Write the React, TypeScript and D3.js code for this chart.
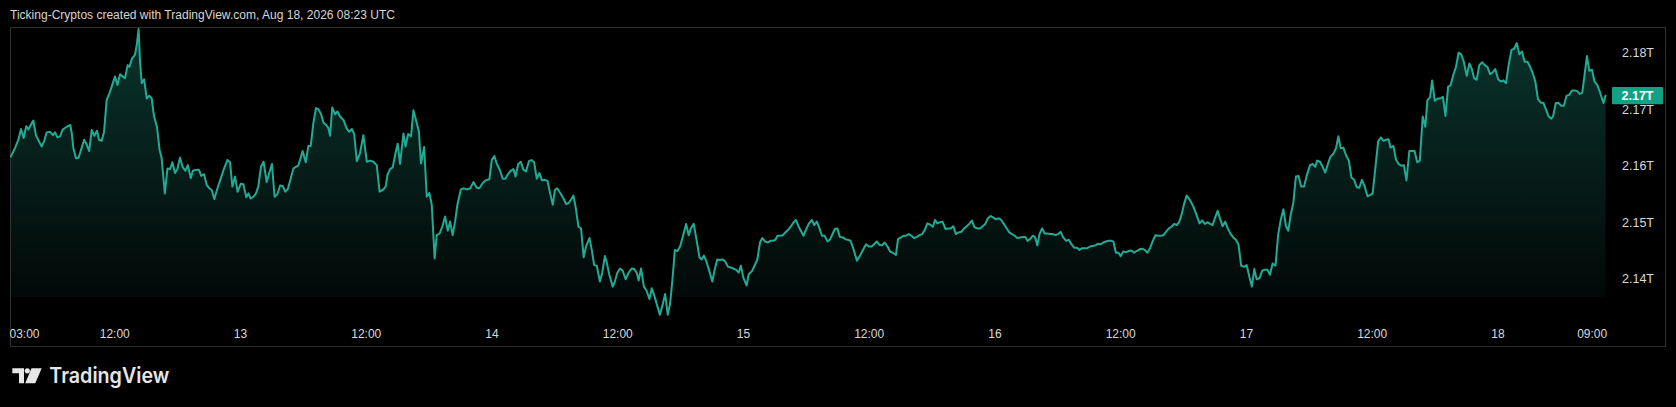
import React, { useMemo } from 'react';
import * as d3 from 'd3';

// ---------- data ----------
// each point: [quarter-hours since 12 Aug 2026 00:00, total crypto market cap in billions USD]
const aug12: [number, number][] = [
  [8.3,2161.6],[9.9,2163.1],[11.2,2164.6],[12.2,2166.5],[13.2,2164.9],[14.2,2167.0],[15.0,2166.4],[15.9,2167.2],
  [16.9,2168.0],[17.9,2165.4],[19.3,2164.1],[20.1,2163.4],[21.0,2164.3],[22.0,2165.9],[23.3,2166.0],[24.4,2165.4],
  [25.2,2165.9],[26.1,2165.0],[27.1,2165.2],[28.1,2166.4],[29.7,2166.9],[31.0,2167.2],[31.6,2165.7],[32.2,2163.1],
  [33.2,2161.3],[34.2,2161.4],[35.1,2162.8],[36.3,2164.6],[37.3,2163.7],[38.2,2162.6],[39.2,2166.3],[40.2,2165.3],
  [41.2,2166.2],[42.0,2164.6],[43.0,2164.4],[43.9,2166.0],[44.9,2171.6],[46.2,2173.1],[48.1,2175.8],[49.0,2174.3],
  [50.0,2176.2],[51.0,2175.8],[51.9,2175.5],[52.9,2177.8],[53.6,2177.5],[54.6,2179.0],[55.7,2179.6],[56.4,2181.4],
  [57.1,2184.2],[57.6,2178.7],[58.3,2174.6],[59.2,2175.3],[60.2,2171.9],[61.2,2172.4],[62.1,2171.9],[63.0,2168.7],
  [64.1,2166.9],[65.1,2162.8],[65.9,2161.3],[67.1,2155.1],[68.1,2159.5],[69.1,2159.4],[70.0,2160.6],[71.0,2158.7],
  [71.9,2159.4],[72.9,2161.4],[73.9,2159.8],[74.9,2159.1],[75.9,2160.1],[77.0,2157.8],[77.8,2159.1],[79.3,2159.3],
  [80.1,2159.3],[81.0,2158.2],[82.1,2158.5],[83.1,2156.6],[84.1,2156.0],[85.0,2155.7],[86.0,2154.1],[87.2,2156.0],
  [88.5,2157.8],[89.7,2159.5],[91.0,2161.0],[92.0,2160.6],[92.9,2156.3],[93.9,2158.1],[94.9,2155.4],
];
const aug13: [number, number][] = [
  [96.1,2156.8],[97.1,2156.7],[98.2,2154.4],[99.0,2155.1],[99.9,2154.2],[100.9,2154.5],[101.9,2155.1],[102.8,2156.3],
  [103.8,2159.8],[104.8,2160.7],[106.0,2157.1],[107.0,2158.8],[108.0,2160.3],[109.0,2154.5],[110.1,2155.0],[111.1,2156.5],
  [112.1,2156.4],[113.1,2155.4],[114.1,2155.9],[115.2,2157.8],[116.2,2159.5],[117.1,2159.8],[118.0,2160.0],[118.7,2161.0],
  [119.7,2162.6],[120.9,2160.6],[121.9,2163.5],[122.8,2163.5],[123.8,2167.5],[124.8,2170.2],[125.7,2170.0],[126.7,2169.2],
  [127.7,2167.6],[128.7,2167.2],[129.5,2166.7],[130.2,2165.3],[131.0,2170.3],[132.1,2169.1],[133.0,2169.6],[134.0,2168.7],
  [135.3,2168.1],[136.5,2166.6],[137.5,2166.0],[138.5,2166.5],[139.4,2165.6],[140.4,2160.8],[141.6,2162.2],[142.9,2165.4],
  [144.2,2160.7],[145.5,2160.9],[146.7,2160.7],[148.0,2160.1],[149.1,2155.4],[150.3,2155.7],[151.4,2156.3],[152.1,2158.4],
  [153.1,2159.4],[154.1,2159.7],[155.0,2161.9],[156.0,2163.9],[156.9,2160.3],[158.2,2165.7],[159.0,2163.4],[160.0,2165.6],
  [161.1,2165.2],[162.0,2169.8],[163.3,2167.5],[164.1,2166.0],[164.9,2160.4],[166.1,2163.3],[167.1,2154.5],[168.1,2155.2],
  [169.0,2153.1],[170.1,2143.6],[170.9,2147.7],[172.0,2148.0],[173.1,2149.3],[174.1,2151.0],[175.1,2148.5],[176.0,2150.1],
  [177.0,2147.7],[177.9,2150.1],[178.8,2153.1],[180.1,2155.8],[181.3,2156.0],[182.3,2155.8],[183.7,2156.0],[184.9,2157.1],
  [186.2,2156.1],[187.2,2156.0],[188.4,2156.9],[189.5,2157.4],[191.0,2157.6],[191.9,2161.0],
];
const aug14: [number, number][] = [
  [192.9,2161.7],[193.8,2160.4],[195.1,2159.1],[196.1,2157.7],[197.1,2157.7],[198.1,2158.5],[199.1,2159.1],[200.2,2159.4],
  [201.0,2158.1],[202.0,2160.3],[203.0,2160.7],[204.0,2159.3],[205.0,2159.0],[206.1,2160.8],[207.1,2161.0],[208.1,2160.6],
  [209.1,2157.7],[210.1,2158.7],[211.1,2157.4],[212.2,2157.5],[213.2,2157.3],[214.2,2155.1],[215.2,2153.1],[216.0,2155.7],
  [216.9,2156.0],[218.0,2155.2],[219.3,2154.2],[220.3,2153.2],[221.3,2153.4],[222.3,2154.1],[223.1,2154.7],[224.0,2152.5],
  [225.0,2149.2],[226.0,2148.9],[227.0,2143.8],[227.9,2145.7],[229.2,2147.2],[230.1,2145.1],[231.0,2142.4],[232.0,2142.3],
  [233.2,2139.5],[234.1,2141.1],[235.1,2144.0],[235.8,2142.9],[236.8,2140.7],[238.1,2138.6],[238.9,2139.5],[239.8,2141.0],
  [240.9,2141.8],[241.9,2141.4],[243.0,2139.9],[244.2,2141.1],[245.3,2141.8],[246.3,2141.7],[247.3,2141.0],[248.0,2139.7],
  [248.9,2141.8],[250.0,2138.6],[251.0,2137.9],[252.1,2136.4],[253.0,2138.3],[253.9,2137.1],[254.9,2135.5],[256.1,2133.6],
  [257.2,2135.5],[258.1,2137.3],[259.1,2133.6],[260.0,2135.6],[261.0,2140.4],[261.8,2145.1],[262.8,2144.9],[263.8,2145.7],
  [264.8,2147.4],[266.1,2149.7],[267.1,2147.7],[267.9,2148.9],[269.0,2149.7],[270.2,2146.6],[271.2,2143.8],[272.0,2143.4],
  [272.9,2144.1],[273.9,2143.0],[275.0,2141.3],[276.1,2139.5],[277.0,2141.6],[278.0,2143.4],[279.0,2143.3],[280.1,2143.4],
  [281.1,2143.0],[282.1,2142.1],[283.1,2142.0],[284.1,2141.8],[285.1,2141.6],[286.2,2141.1],[287.0,2142.3],
];
const aug15: [number, number][] = [
  [288.0,2140.1],[289.2,2138.8],[290.0,2140.8],[291.2,2141.3],[292.2,2142.3],[293.3,2143.4],[294.3,2146.4],[295.2,2147.2],
  [296.2,2146.6],[297.3,2146.4],[298.2,2146.7],[299.2,2146.7],[300.2,2146.9],[301.0,2147.6],[301.9,2147.6],[303.0,2147.7],
  [304.0,2148.2],[305.0,2148.6],[306.0,2149.2],[307.0,2149.9],[308.0,2150.4],[309.1,2149.2],[310.9,2147.6],[311.9,2148.7],
  [312.9,2149.7],[314.1,2150.4],[315.0,2149.5],[316.0,2150.1],[317.0,2148.9],[318.0,2147.6],[319.0,2147.6],[320.1,2146.6],
  [321.1,2147.0],[322.1,2148.0],[322.9,2148.8],[323.8,2148.9],[324.8,2147.4],[325.9,2147.3],[326.9,2147.0],[327.9,2146.9],
  [328.9,2146.7],[329.9,2145.4],[331.3,2143.2],[332.3,2143.9],[333.5,2145.0],[334.8,2146.1],[335.8,2145.7],[336.9,2145.7],
  [337.9,2146.1],[338.9,2146.6],[339.9,2146.0],[340.9,2145.9],[341.9,2146.4],[343.0,2145.7],[344.0,2144.8],[345.0,2144.6],
  [346.2,2144.2],[347.0,2147.0],[348.1,2147.3],[349.1,2147.6],[350.1,2147.6],[351.1,2147.9],[352.1,2147.6],[353.1,2147.2],
  [354.2,2147.4],[355.2,2147.7],[356.2,2147.9],[357.2,2148.6],[358.2,2149.8],[359.2,2149.6],[360.3,2149.2],[361.1,2150.4],
  [362.0,2149.8],[363.0,2150.0],[364.0,2150.1],[365.1,2148.8],[366.1,2148.9],[367.1,2148.9],[368.1,2149.3],[369.1,2147.9],
  [370.1,2148.2],[371.2,2148.3],[372.2,2148.9],[373.2,2149.3],[374.2,2149.7],[375.2,2150.3],[376.2,2149.1],[377.3,2148.9],
  [378.3,2148.9],[379.3,2149.3],[380.3,2149.7],[381.3,2150.7],[382.4,2151.1],[383.4,2150.8],
];
const aug16: [number, number][] = [
  [384.4,2150.5],[385.4,2150.7],[386.4,2150.4],[387.4,2149.7],[388.5,2148.9],[389.5,2148.2],[390.5,2147.9],[391.5,2147.6],
  [392.5,2147.2],[393.6,2147.3],[394.6,2147.4],[395.6,2147.4],[396.4,2146.7],[397.4,2147.0],[398.4,2147.6],[399.3,2147.4],
  [400.2,2145.9],[401.0,2147.9],[402.0,2148.9],[403.0,2148.0],[404.0,2148.0],[405.1,2147.9],[406.1,2147.9],[407.1,2147.7],
  [408.1,2147.9],[409.1,2148.3],[410.1,2147.3],[411.2,2146.7],[412.2,2146.9],[413.2,2146.1],[414.2,2145.5],[415.2,2145.5],
  [416.3,2145.1],[417.3,2145.4],[418.3,2145.4],[419.3,2145.4],[420.3,2145.7],[421.3,2145.8],[422.4,2145.9],[423.4,2146.2],
  [424.4,2146.1],[425.4,2146.4],[426.4,2146.6],[427.4,2146.7],[428.5,2146.7],[429.2,2146.6],[430.2,2144.6],[431.2,2144.6],
  [432.0,2144.0],[433.0,2144.8],[434.1,2144.7],[435.1,2144.9],[436.1,2145.0],[437.1,2144.6],[438.1,2144.9],[439.2,2145.2],
  [440.2,2145.3],[441.2,2145.1],[442.2,2144.6],[443.2,2145.4],[444.2,2146.6],[445.3,2147.7],[446.3,2147.6],[447.3,2147.6],
  [448.3,2147.7],[449.3,2148.3],[450.4,2148.9],[451.4,2149.2],[452.4,2149.7],[453.4,2149.5],[454.4,2150.1],[455.4,2151.6],
  [456.2,2153.2],[457.2,2154.7],[458.5,2153.9],[459.7,2152.8],[460.7,2151.6],[462.1,2149.8],[463.1,2150.3],[464.2,2149.7],
  [465.1,2150.0],[466.1,2149.7],[467.1,2149.5],[468.2,2151.0],[469.0,2152.0],[469.9,2150.7],[470.9,2149.3],[471.9,2150.1],
  [472.9,2148.9],[474.0,2147.9],[475.0,2147.3],[476.0,2146.9],[477.0,2146.0],[478.0,2142.3],[479.1,2142.1],
];
const aug17: [number, number][] = [
  [480.1,2142.4],[481.1,2140.4],[482.1,2138.6],[483.0,2141.7],[483.9,2139.9],[485.0,2140.1],[486.0,2141.4],[487.0,2141.6],
  [488.0,2141.6],[489.0,2140.7],[490.0,2142.7],[491.1,2142.3],[492.1,2147.7],[493.1,2150.4],[494.1,2152.3],[495.1,2149.3],
  [496.0,2148.5],[496.9,2151.3],[497.9,2153.4],[498.9,2158.1],[499.9,2158.2],[500.9,2156.3],[502.0,2156.3],[503.0,2158.2],
  [504.3,2160.1],[505.3,2160.3],[506.3,2159.8],[507.0,2160.9],[508.1,2160.7],[509.1,2159.8],[510.1,2158.8],[511.1,2160.3],
  [512.1,2161.6],[513.2,2162.1],[514.2,2163.1],[515.1,2165.2],[516.0,2163.1],[517.0,2163.2],[518.0,2161.9],[519.1,2160.9],
  [520.1,2157.9],[521.1,2157.5],[522.1,2156.2],[523.1,2156.1],[524.1,2157.5],[525.2,2156.3],[526.2,2154.6],[527.2,2154.8],
  [528.2,2155.1],[529.2,2159.5],[530.3,2164.3],[531.3,2165.0],[532.3,2164.4],[533.3,2164.6],[534.3,2164.7],[535.0,2163.2],
  [536.1,2163.5],[537.1,2161.1],[538.1,2160.3],[539.1,2160.0],[540.1,2160.1],[541.1,2157.4],[542.2,2162.6],[543.2,2162.6],
  [544.2,2162.6],[545.2,2160.6],[546.2,2160.9],[547.3,2168.7],[548.3,2166.9],[549.1,2171.6],[550.1,2172.1],[550.9,2175.1],
  [551.9,2171.5],[553.0,2171.9],[554.0,2171.9],[555.0,2172.2],[556.0,2168.8],[557.0,2174.0],[557.9,2174.2],[559.0,2176.1],
  [560.0,2177.5],[561.0,2180.0],[562.0,2179.7],[563.0,2178.4],[564.1,2175.9],[565.1,2178.1],[566.0,2177.2],[566.9,2175.5],
  [567.9,2175.2],[568.9,2177.8],[570.0,2178.3],[571.0,2177.8],[572.0,2177.5],[573.0,2176.2],[574.0,2176.5],[575.0,2177.1],
];
const aug18: [number, number][] = [
  [576.1,2175.3],[577.1,2174.9],[578.1,2175.1],[579.1,2174.6],[580.1,2177.8],[581.2,2180.5],[582.2,2180.7],[583.2,2181.7],
  [584.2,2179.7],[585.2,2180.2],[586.2,2178.4],[587.3,2178.4],[588.3,2177.5],[589.3,2176.4],[590.3,2174.9],[591.3,2171.8],
  [592.3,2171.2],[593.4,2171.1],[594.4,2169.9],[595.4,2168.7],[596.4,2168.3],[597.1,2168.8],[598.1,2171.1],[599.2,2171.1],
  [600.2,2170.6],[601.2,2170.6],[602.2,2172.4],[603.2,2172.5],[604.3,2173.3],[605.3,2173.3],[606.3,2173.2],[607.3,2172.7],
  [608.2,2172.9],[609.1,2176.1],[610.0,2179.4],[610.9,2176.8],[611.9,2177.0],[612.9,2174.9],[613.9,2174.3],[614.9,2173.1],
  [616.3,2171.1],[617.1,2172.4],
];

// price-scale ticks (billions) and time-scale ticks (hours since 12 Aug 00:00)
const priceTicks = [2140, 2150, 2160, 2170, 2180];
const timeTickHours = [3, 12, 24, 36, 48, 60, 72, 84, 96, 108, 120, 132, 144, 153];
// visible time range of the pane (hours since 12 Aug 00:00)
const visibleHours = [2, 154.7];
const priceView = [2140, 2180];

const TITLE = 'Ticking-Cryptos created with TradingView.com, Aug 18, 2026 08:23 UTC';

// ---------- layout ----------
const W = 1676;
const H = 407;
const T0 = Date.UTC(2026, 7, 12, 0, 0, 0);
const HOUR = 3600000;
const QH = 15 * 60000;
const FRAME = { l: 10, t: 27, r: 1666, b: 347 };
const PLOT_R = 1610;
const FILL_BOTTOM = 297;
const LINE = '#22ab94';
const FONT = '"Liberation Sans", Arial, sans-serif';

type Pt = { t: Date; v: number };

export default function App() {
  const data: Pt[] = useMemo(
    () => [...aug12, ...aug13, ...aug14, ...aug15, ...aug16, ...aug17, ...aug18].map(([q, v]) => ({ t: new Date(T0 + q * QH), v })),
    []
  );

  const x = d3
    .scaleUtc()
    .domain([new Date(T0 + visibleHours[0] * HOUR), new Date(T0 + visibleHours[1] * HOUR)])
    .range([FRAME.l, PLOT_R]);
  const y = d3.scaleLinear().domain(priceView).range([278.7, 52.7]);

  const linePath = d3.line<Pt>().x((d) => x(d.t)).y((d) => y(d.v))(data) || '';
  const areaPath =
    d3
      .area<Pt>()
      .x((d) => x(d.t))
      .y0(FILL_BOTTOM)
      .y1((d) => y(d.v))(data) || '';

  const last = data[data.length - 1];
  const lastY = y(last.v);
  const minY = d3.min(data, (d) => y(d.v)) as number;
  const fmtPrice = (v: number) => (v / 1000).toFixed(2) + 'T';
  const fmtTime = (d: Date) => (d.getUTCHours() === 0 && d.getUTCMinutes() === 0 ? d3.utcFormat('%-d')(d) : d3.utcFormat('%H:%M')(d));

  const ticks = timeTickHours.map((h) => new Date(T0 + h * HOUR));

  return (
    <div style={{ position: 'fixed', left: 0, top: 0, width: W, height: H, background: '#000' }}>
      <svg width={W} height={H} viewBox={`0 0 ${W} ${H}`} style={{ display: 'block' }}>
        <defs>
          <linearGradient id="areaGrad" gradientUnits="userSpaceOnUse" x1="0" y1={minY} x2="0" y2={FILL_BOTTOM}>
            <stop offset="0" stopColor={LINE} stopOpacity={0.3} />
            <stop offset="1" stopColor={LINE} stopOpacity={0.05} />
          </linearGradient>
          <clipPath id="fillClip">
            <rect x={FRAME.l} y={FRAME.t} width={PLOT_R - FRAME.l} height={FILL_BOTTOM - FRAME.t} />
          </clipPath>
          <clipPath id="paneClip">
            <rect x={FRAME.l} y={FRAME.t} width={PLOT_R - FRAME.l} height={FRAME.b - FRAME.t} />
          </clipPath>
        </defs>
        <rect x={0} y={0} width={W} height={H} fill="#000" />

        <text x={10} y={19} fill="#d6d6d6" fontFamily={FONT} fontSize={12} textLength={385} lengthAdjust="spacingAndGlyphs">
          {TITLE}
        </text>

        <rect x={FRAME.l + 0.5} y={FRAME.t + 0.5} width={FRAME.r - FRAME.l - 1} height={FRAME.b - FRAME.t - 1} fill="none" stroke="#2f2f2f" strokeWidth={1} />

        <g clipPath="url(#fillClip)">
          <path d={areaPath} fill="url(#areaGrad)" />
        </g>
        <g clipPath="url(#paneClip)">
          <path d={linePath} fill="none" stroke={LINE} strokeWidth={2} strokeLinejoin="round" strokeLinecap="round" />
        </g>

        {priceTicks.map((v) => (
          <text key={v} x={1622} y={y(v)} dy="0.36em" fill="#d9d9d9" fontFamily={FONT} fontSize={12.5}>
            {fmtPrice(v)}
          </text>
        ))}

        <rect x={1612} y={lastY - 8.7} width={51} height={17.4} fill="#15a085" rx={1} />
        <text x={1637.5} y={lastY} dy="0.36em" textAnchor="middle" fill="#ffffff" fontFamily={FONT} fontSize={12.5} fontWeight={700}>
          {fmtPrice(last.v)}
        </text>

        {ticks.map((d, i) => (
          <text key={i} x={Math.max(x(d), FRAME.l + 14.5)} y={338} textAnchor="middle" fill="#d9d9d9" fontFamily={FONT} fontSize={12}>
            {fmtTime(d)}
          </text>
        ))}

        <g fill="#e6e6e6">
          <path d="M12.3,368.3 H24 V383.3 H19 V373.3 H12.3 Z" />
          <circle cx={27.3} cy={370.8} r={2.6} />
          <path d="M31.5,368.3 H41.7 L35.3,383.3 H25.2 Z" />
          <text x={49.3} y={383.3} fontFamily='Inter, "Open Sans", sans-serif' fontSize={21} fontWeight={600} textLength={120} lengthAdjust="spacingAndGlyphs">
            TradingView
          </text>
        </g>
      </svg>
    </div>
  );
}
